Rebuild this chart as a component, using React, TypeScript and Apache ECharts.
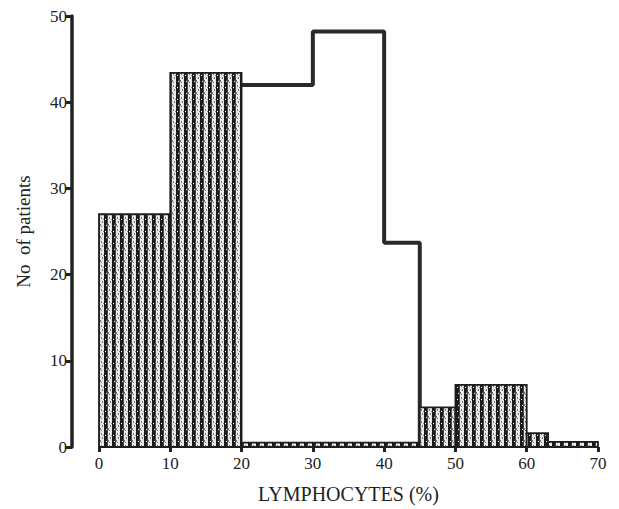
import React, { useEffect, useRef } from "react";
import * as echarts from "echarts";

// Hatched histogram (bin start, bin end, count)
const hatchedStart = [0, 10, 20, 45, 50, 60, 63];
const hatchedEnd = [10, 20, 45, 50, 60, 63, 70];
const hatchedCount = [27, 43.4, 0.5, 4.6, 7.2, 1.6, 0.6];

// Open (outline) histogram
const outlineStart = [20, 30, 40];
const outlineEnd = [30, 40, 45];
const outlineCount = [42, 48.2, 23.7];

const xTicks = [0, 10, 20, 30, 40, 50, 60, 70];
const yTicks = [0, 10, 20, 30, 40, 50];

function makePattern(): HTMLCanvasElement {
  const c = document.createElement("canvas");
  c.width = 8;
  c.height = 12;
  const g = c.getContext("2d")!;
  g.fillStyle = "#e6e6e6";
  g.fillRect(0, 0, 8, 12);
  g.fillStyle = "#1a1a1a";
  g.fillRect(0, 0, 3, 12);
  g.fillStyle = "#4a4a4a";
  g.fillRect(3, 0, 1, 12);
  g.fillStyle = "#7a7a7a";
  g.fillRect(5, 1, 1, 2);
  g.fillRect(6, 5, 1, 2);
  g.fillRect(4, 8, 1, 2);
  g.fillRect(7, 3, 1, 1);
  g.fillRect(5, 10, 1, 1);
  g.fillStyle = "#ffffff";
  g.fillRect(1, 3, 1, 1);
  g.fillRect(2, 9, 1, 1);
  g.fillRect(6, 0, 1, 1);
  return c;
}

export default function App() {
  const ref = useRef<HTMLDivElement>(null);
  useEffect(() => {
    if (!ref.current) return;
    const chart = echarts.init(ref.current, null, { renderer: "svg" });
    const pattern = { image: makePattern(), repeat: "repeat" };
    const hatchedData = hatchedStart.map((s, i) => [s, hatchedEnd[i], hatchedCount[i]]);
    const outlineData: number[][] = outlineStart.map((s, i) => [s, outlineCount[i]]);
    outlineData.push([outlineEnd[outlineEnd.length - 1], 0]);
    const font = "'Liberation Serif', 'DejaVu Serif', serif";
    chart.setOption({
      animation: false,
      backgroundColor: "#ffffff",
      textStyle: { fontFamily: font, color: "#222" },
      grid: { left: 99, right: 21, top: 16, bottom: 61, containLabel: false },
      xAxis: {
        type: "value",
        min: 0,
        max: 70,
        interval: 10,
        name: "LYMPHOCYTES (%)",
        nameLocation: "middle",
        nameGap: 37,
        nameTextStyle: { fontFamily: font, fontSize: 20, color: "#222" },
        axisLine: { show: false, onZero: false },
        axisTick: { show: true, length: 5, lineStyle: { color: "#222", width: 3 } },
        axisLabel: {
          fontFamily: font,
          fontSize: 17,
          color: "#222",
          margin: 8,
          formatter: (v: number) => (xTicks.includes(v) ? String(v) : ""),
        },
        splitLine: { show: false },
      },
      yAxis: {
        type: "value",
        min: 0,
        max: 50,
        interval: 10,
        offset: 27,
        name: "No  of patients",
        nameLocation: "middle",
        nameGap: 39,
        nameTextStyle: { fontFamily: font, fontSize: 19, color: "#222" },
        axisLine: { show: true, onZero: false, lineStyle: { color: "#222", width: 3.5 } },
        axisTick: { show: true, length: 6, lineStyle: { color: "#222", width: 3 } },
        axisLabel: {
          fontFamily: font,
          fontSize: 17,
          color: "#222",
          margin: 5,
          formatter: (v: number) => (yTicks.includes(v) ? String(v) : ""),
        },
        splitLine: { show: false },
      },
      series: [
        {
          type: "line",
          step: "end",
          data: outlineData,
          symbol: "none",
          z: 1,
          lineStyle: { color: "#2a2a2a", width: 4 },
        },
        {
          type: "custom",
          z: 2,
          data: hatchedData,
          encode: { x: [0, 1], y: 2 },
          renderItem: (params: any, api: any) => {
            const tl = api.coord([api.value(0), api.value(2)]);
            const br = api.coord([api.value(1), 0]);
            return {
              type: "rect",
              shape: { x: tl[0], y: tl[1], width: br[0] - tl[0], height: br[1] - tl[1] },
              style: { fill: pattern, stroke: "#1e1e1e", lineWidth: 1.8 },
            };
          },
        },
      ],
    });
    return () => chart.dispose();
  }, []);
  return (
    <div
      ref={ref}
      style={{ position: "fixed", left: 0, top: 0, width: 619, height: 509, background: "#fff" }}
    />
  );
}
